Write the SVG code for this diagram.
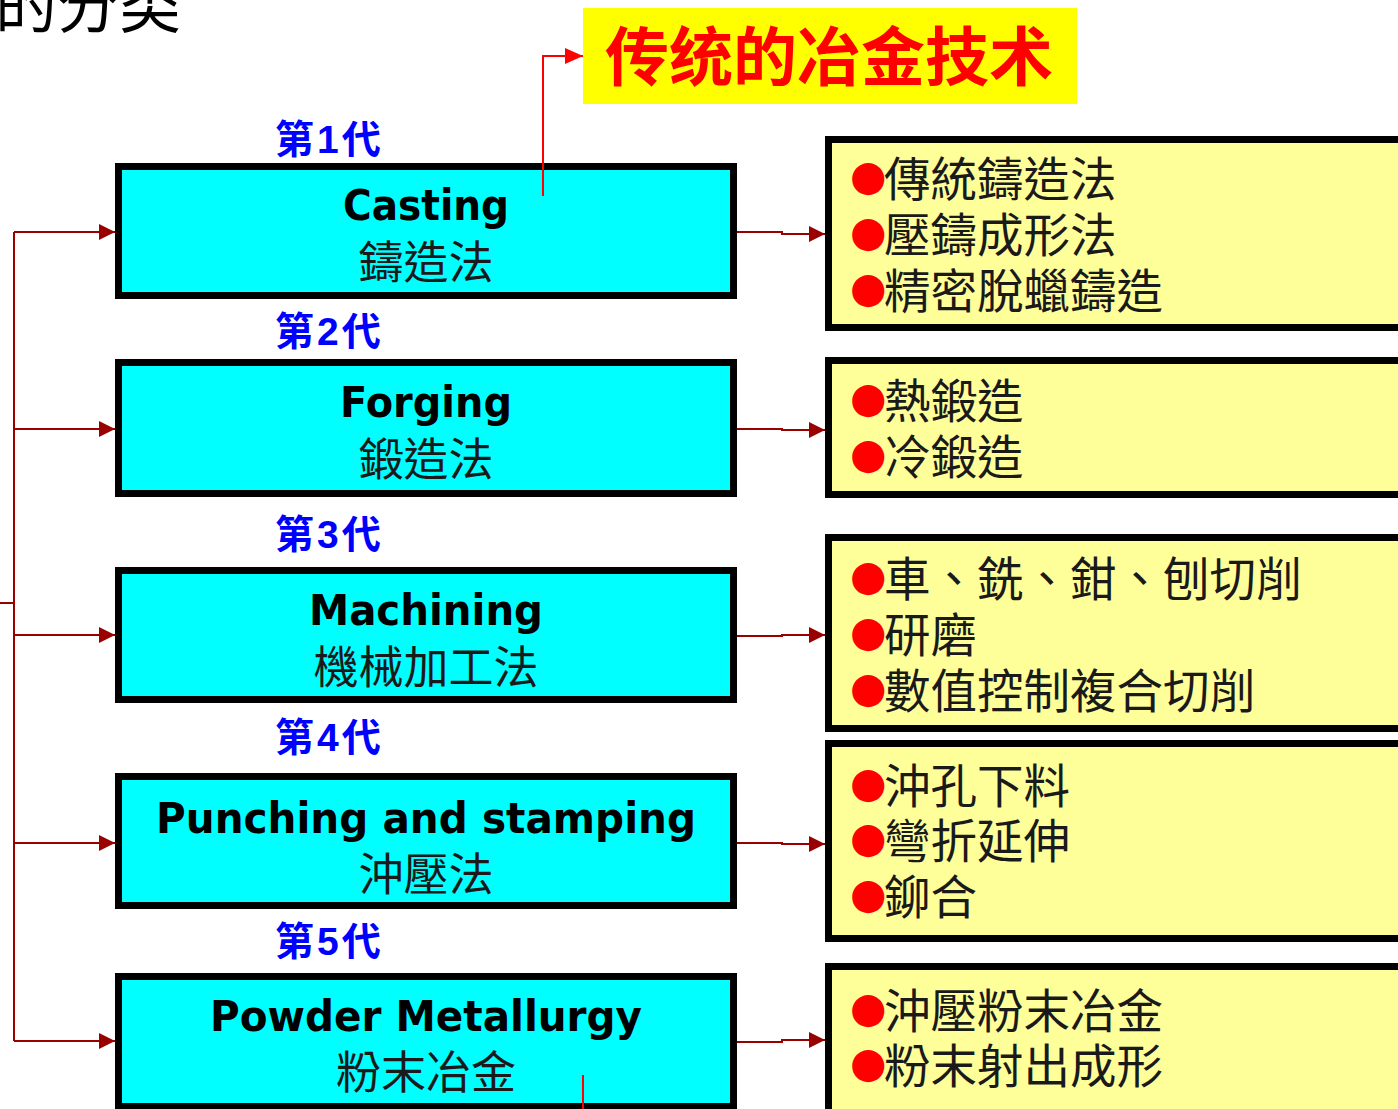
<svg xmlns="http://www.w3.org/2000/svg" width="1398" height="1109" viewBox="0 0 1398 1109">
<defs>
<style>
.cyan{fill:#00FFFF;stroke:#000;stroke-width:7}
.yel{fill:#FFFF99;stroke:#000;stroke-width:7}
.en{font-family:"DejaVu Sans","Liberation Sans",sans-serif;font-weight:bold;font-size:42px;fill:#000;text-anchor:middle}
.zh{font-family:"Noto Sans CJK TC","Noto Sans CJK SC",sans-serif;font-size:45px;fill:#1a1a1a;text-anchor:middle}
.gen{font-family:"Liberation Sans","Noto Sans CJK TC",sans-serif;font-weight:bold;font-size:39px;letter-spacing:3px;fill:#0000FF}
.li{font-family:"Noto Sans CJK TC","Noto Sans CJK SC",sans-serif;font-size:46.5px;fill:#1a1a1a}
.bul{font-family:"DejaVu Sans",sans-serif;fill:#FF0000;font-size:42px}
.conn{fill:none;stroke:#990000;stroke-width:2}
.red{fill:none;stroke:#FF0000;stroke-width:2}
</style>
<marker id="ah" markerWidth="16" markerHeight="16" refX="16" refY="8" orient="auto" markerUnits="userSpaceOnUse"><path d="M0,0 L16,8 L0,16 Z" fill="#990000"/></marker>
<marker id="ahr" markerWidth="18" markerHeight="18" refX="18" refY="8" orient="auto" markerUnits="userSpaceOnUse"><path d="M0,0 L18,8 L0,16 Z" fill="#FF0000"/></marker>
</defs>
<rect width="1398" height="1109" fill="#fff"/>

<g id="title"><text x="-5" y="28" font-family="Noto Sans CJK SC, sans-serif" font-size="62" fill="#000">的分类</text></g>

<g id="label-traditional">
<rect x="583" y="8" width="494" height="96" fill="#FFFF00"/>
<text x="605" y="80" font-family="Noto Sans CJK SC, sans-serif" font-weight="bold" font-size="64" fill="#FF0000">传统的冶金技术</text>
</g>

<g id="gen1"><text class="gen" x="275" y="153">第1代</text></g>
<g id="gen2"><text class="gen" x="275" y="345">第2代</text></g>
<g id="gen3"><text class="gen" x="275" y="548">第3代</text></g>
<g id="gen4"><text class="gen" x="275" y="751">第4代</text></g>
<g id="gen5"><text class="gen" x="275" y="955">第5代</text></g>

<g id="casting">
<rect class="cyan" x="118.5" y="166.5" width="615" height="129"/>
<text class="en" x="426" y="220" textLength="166" lengthAdjust="spacingAndGlyphs">Casting</text>
<text class="zh" x="426" y="279">鑄造法</text>
</g>
<g id="forging">
<rect class="cyan" x="118.5" y="362.5" width="615" height="131"/>
<text class="en" x="426" y="417" textLength="172" lengthAdjust="spacingAndGlyphs">Forging</text>
<text class="zh" x="426" y="476">鍛造法</text>
</g>
<g id="machining">
<rect class="cyan" x="118.5" y="570.5" width="615" height="129"/>
<text class="en" x="426" y="625" textLength="234" lengthAdjust="spacingAndGlyphs">Machining</text>
<text class="zh" x="426" y="684">機械加工法</text>
</g>
<g id="punching">
<rect class="cyan" x="118.5" y="776.5" width="615" height="129"/>
<text class="en" x="426" y="833" textLength="540" lengthAdjust="spacingAndGlyphs">Punching and stamping</text>
<text class="zh" x="426" y="891">沖壓法</text>
</g>
<g id="powder">
<rect class="cyan" x="118.5" y="976.5" width="615" height="130"/>
<text class="en" x="426" y="1031" textLength="432" lengthAdjust="spacingAndGlyphs">Powder Metallurgy</text>
<text class="zh" x="426" y="1089">粉末冶金</text>
</g>

<g id="list-casting">
<rect class="yel" x="828.5" y="139.5" width="574" height="188"/>
<text class="li" y="196"><tspan class="bul" x="850" baseline-shift="6">●</tspan><tspan x="884">傳統鑄造法</tspan></text>
<text class="li" y="252"><tspan class="bul" x="850" baseline-shift="6">●</tspan><tspan x="884">壓鑄成形法</tspan></text>
<text class="li" y="308"><tspan class="bul" x="850" baseline-shift="6">●</tspan><tspan x="884">精密脫蠟鑄造</tspan></text>
</g>
<g id="list-forging">
<rect class="yel" x="828.5" y="360.5" width="574" height="134"/>
<text class="li" y="418"><tspan class="bul" x="850" baseline-shift="6">●</tspan><tspan x="884">熱鍛造</tspan></text>
<text class="li" y="474"><tspan class="bul" x="850" baseline-shift="6">●</tspan><tspan x="884">冷鍛造</tspan></text>
</g>
<g id="list-machining">
<rect class="yel" x="828.5" y="537.5" width="574" height="191"/>
<text class="li" y="596"><tspan class="bul" x="850" baseline-shift="6">●</tspan><tspan x="884">車、銑、鉗、刨切削</tspan></text>
<text class="li" y="652"><tspan class="bul" x="850" baseline-shift="6">●</tspan><tspan x="884">研磨</tspan></text>
<text class="li" y="708"><tspan class="bul" x="850" baseline-shift="6">●</tspan><tspan x="884">數值控制複合切削</tspan></text>
</g>
<g id="list-punching">
<rect class="yel" x="828.5" y="743.5" width="574" height="195"/>
<text class="li" y="803"><tspan class="bul" x="850" baseline-shift="6">●</tspan><tspan x="884">沖孔下料</tspan></text>
<text class="li" y="858"><tspan class="bul" x="850" baseline-shift="6">●</tspan><tspan x="884">彎折延伸</tspan></text>
<text class="li" y="914"><tspan class="bul" x="850" baseline-shift="6">●</tspan><tspan x="884">鉚合</tspan></text>
</g>
<g id="list-powder">
<rect class="yel" x="828.5" y="966.5" width="574" height="150"/>
<text class="li" y="1028"><tspan class="bul" x="850" baseline-shift="6">●</tspan><tspan x="884">沖壓粉末冶金</tspan></text>
<text class="li" y="1083"><tspan class="bul" x="850" baseline-shift="6">●</tspan><tspan x="884">粉末射出成形</tspan></text>
</g>

<g id="connectors">
<path class="conn" d="M14,232 V1041 M0,603 H14"/>
<path class="conn" d="M14,232 H115" marker-end="url(#ah)"/>
<path class="conn" d="M14,429 H115" marker-end="url(#ah)"/>
<path class="conn" d="M14,635 H115" marker-end="url(#ah)"/>
<path class="conn" d="M14,843 H115" marker-end="url(#ah)"/>
<path class="conn" d="M14,1041 H115" marker-end="url(#ah)"/>
<path class="conn" d="M737,232 H782 V234 H825" marker-end="url(#ah)"/>
<path class="conn" d="M737,429 H782 V430 H825" marker-end="url(#ah)"/>
<path class="conn" d="M737,636 H782 V635 H825" marker-end="url(#ah)"/>
<path class="conn" d="M737,843 H782 V844 H825" marker-end="url(#ah)"/>
<path class="conn" d="M737,1042 H782 V1040 H825" marker-end="url(#ah)"/>
<path class="red" d="M543,196 V56 H583" marker-end="url(#ahr)"/>
<path class="red" d="M583,1075 V1109"/>
</g>
</svg>
